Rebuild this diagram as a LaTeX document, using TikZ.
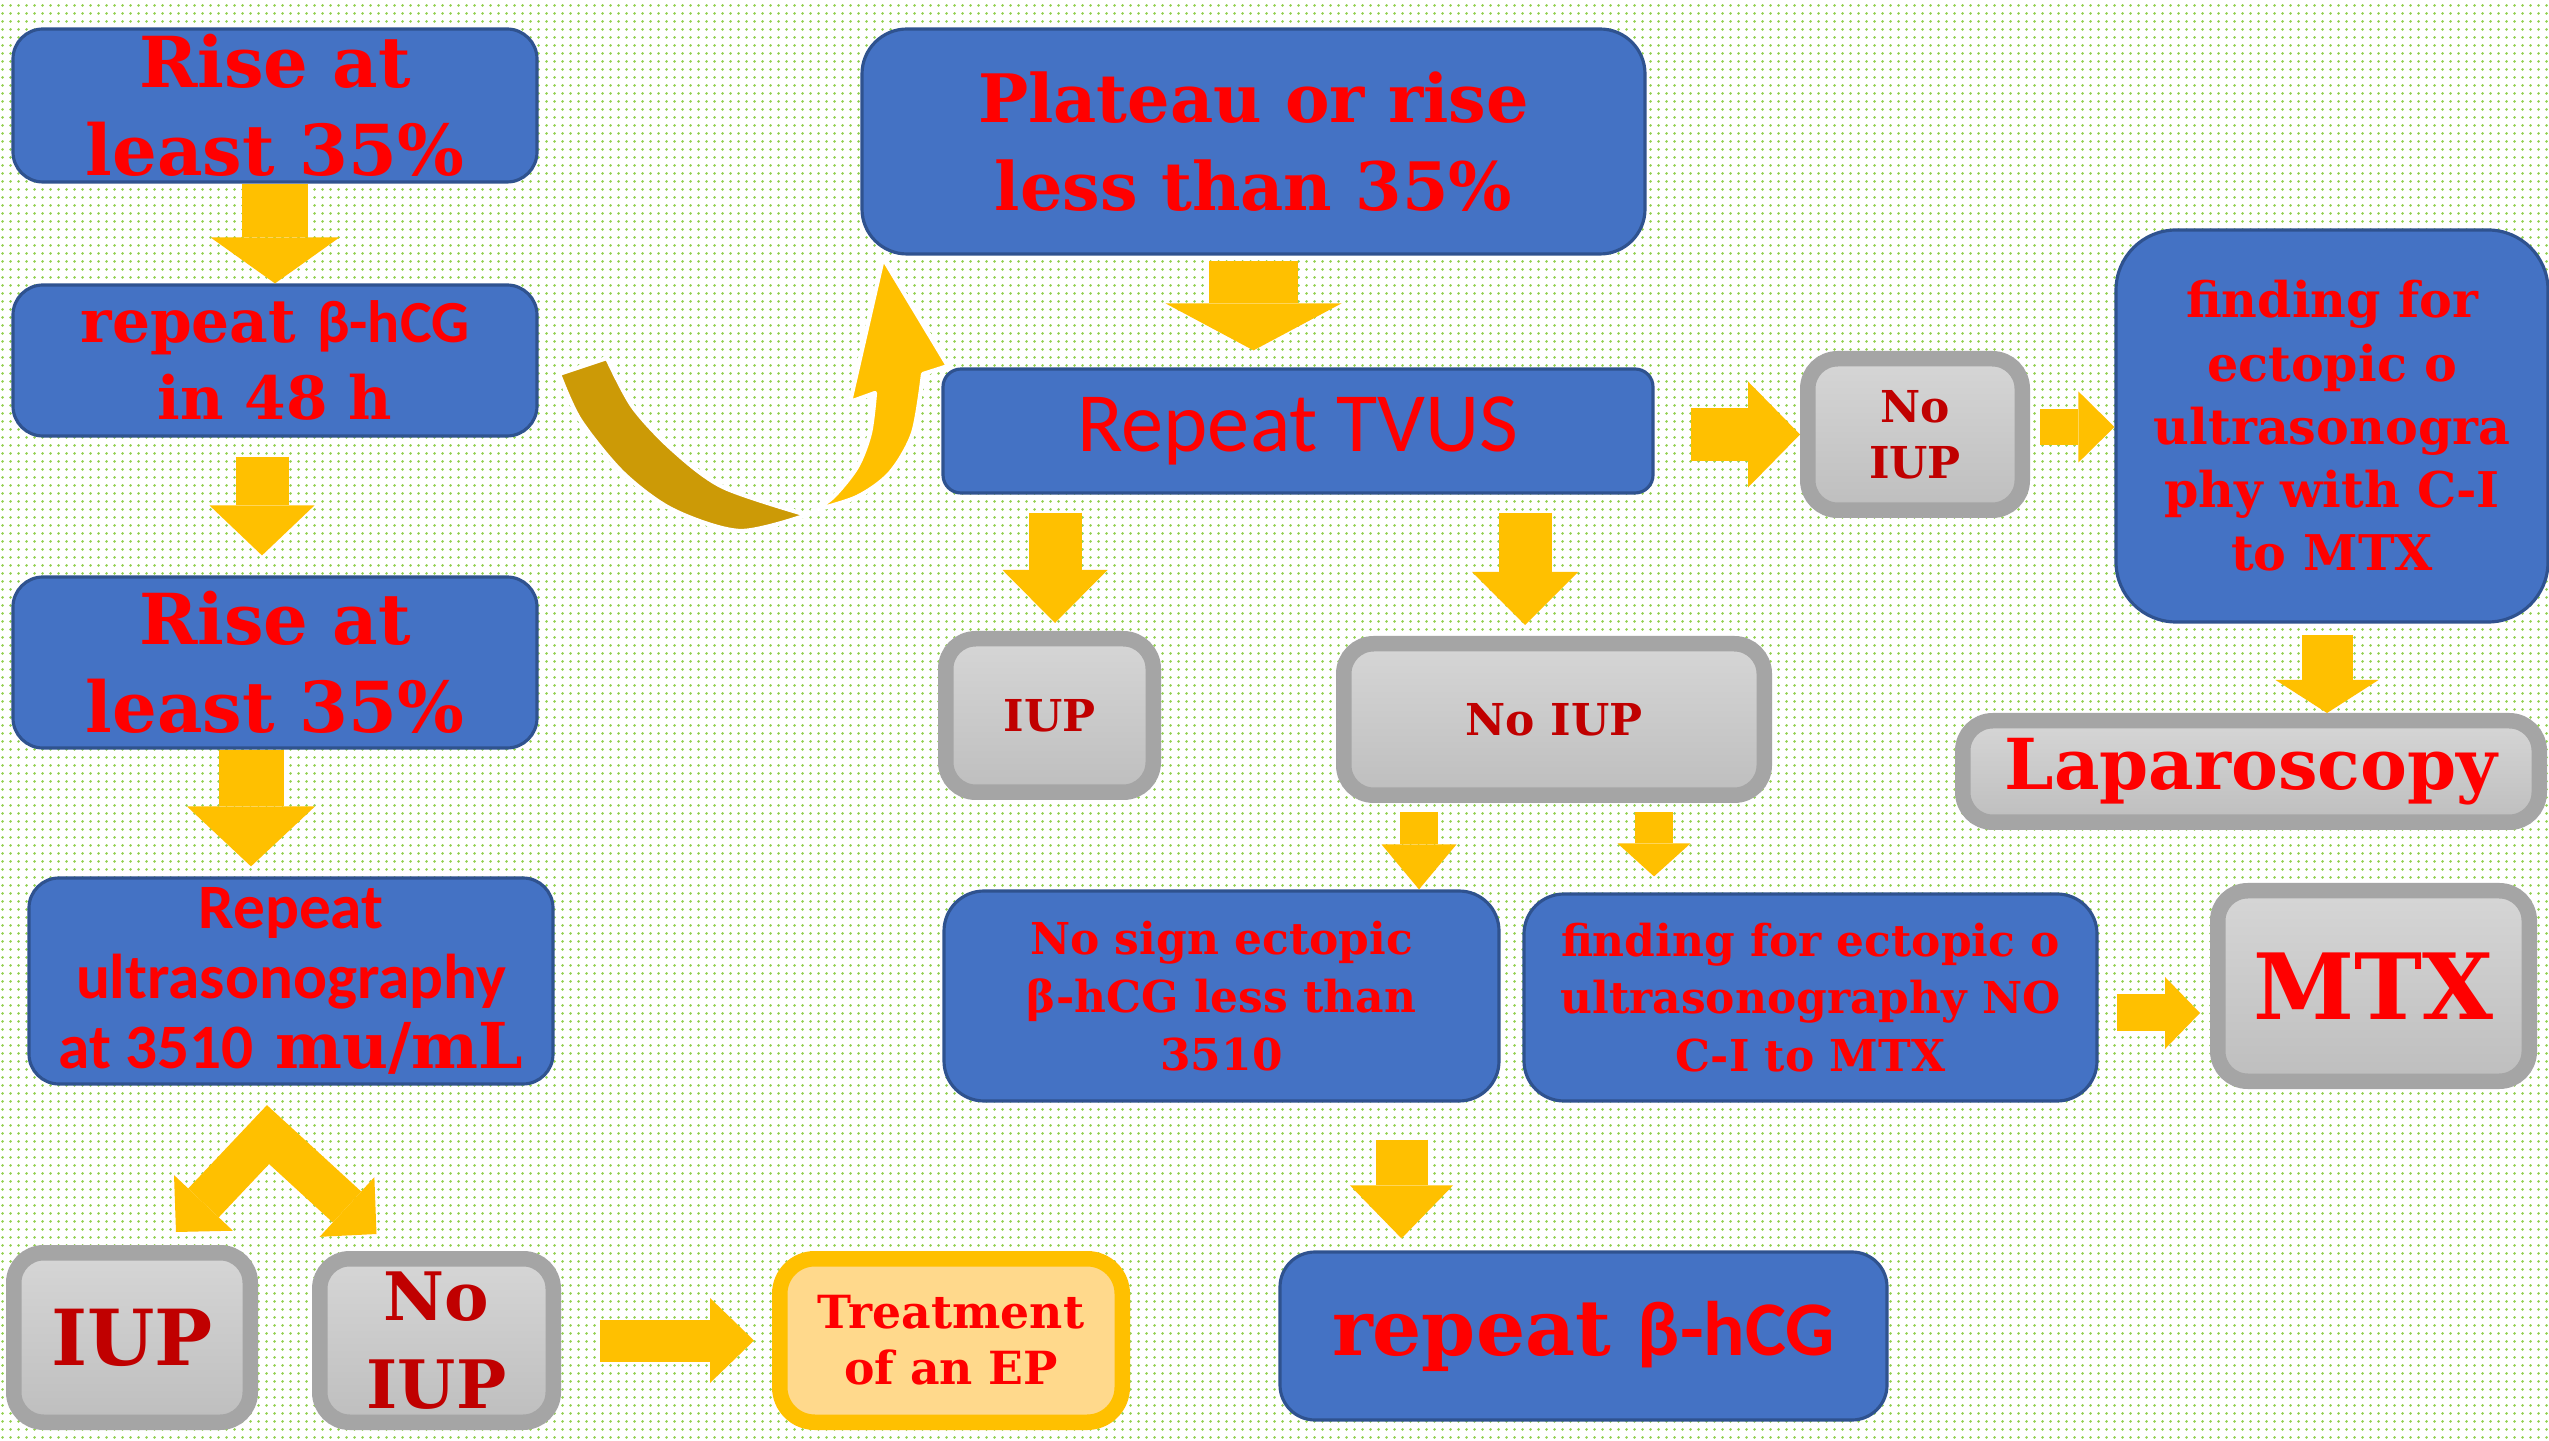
\documentclass[tikz,border=0pt]{standalone}
\usepackage{fontspec}
\setmainfont{DejaVu Serif}
\newfontfamily\sansfam{Carlito}
\usepackage{tikz}
\usetikzlibrary{arrows.meta, positioning, patterns.meta, calc}
\definecolor{boxblue}{RGB}{68,114,196}
\definecolor{boxedge}{RGB}{47,82,143}
\definecolor{greyedge}{RGB}{165,165,165}
\definecolor{greytop}{RGB}{214,214,214}
\definecolor{greybot}{RGB}{190,190,190}
\definecolor{gold}{RGB}{255,192,0}
\definecolor{darkgold}{RGB}{204,154,6}
\definecolor{peach}{RGB}{255,217,140}
\definecolor{txtred}{RGB}{255,0,0}
\definecolor{iupred}{RGB}{192,0,0}
\definecolor{dotgreen}{RGB}{146,208,80}

\tikzdeclarepattern{
  name=greendots, type=uncolored,
  bottom left={(0pt,0pt)}, top right={(2.28pt,2.28pt)},
  tile size={(2.28pt,2.28pt)},
  code={\fill (1.14pt,1.14pt) circle (0.45pt);}
}

\begin{document}
\begin{tikzpicture}[
  bluebox/.style={draw=boxedge, line width=0.9pt, fill=boxblue, rounded corners=0.3cm,
                  align=center, text=txtred, inner sep=1pt},
  greybox/.style={draw=greyedge, line width=0.155cm, top color=greytop, bottom color=greybot,
                  rounded corners=0.3cm, align=center, text=iupred, inner sep=1pt},
  orangebox/.style={draw=gold, line width=0.155cm, fill=peach, rounded corners=0.35cm,
                    align=center, text=txtred},
  barrow/.style n args={3}{draw=gold, line width=#1,
                           -{Triangle[width=#2, length=#3, line width=0pt]}},
  bendpart/.style={draw=white, line width=1.2pt, line join=round}
]
  \useasboundingbox (0,0) rectangle (25.49,14.40);
  \fill[white] (0,0) rectangle (25.49,14.40);
  \fill[pattern=greendots, pattern color=dotgreen] (0,0) rectangle (25.49,14.40);

  % left column
  \node[bluebox, minimum width=5.24cm, minimum height=1.53cm,
        font={\fontsize{20}{25}\selectfont\bfseries}] (riseA) at (2.75,13.345)
    {Rise at\\least 35\%};
  \node[bluebox, minimum width=5.24cm, minimum height=1.51cm,
        font={\fontsize{17}{22}\selectfont\bfseries}] (rep48) at (2.75,10.795)
    {repeat {\sansfam β-hCG}\\in 48 h};
  \node[bluebox, minimum width=5.24cm, minimum height=1.71cm,
        font={\fontsize{20}{25}\selectfont\bfseries}] (riseC) at (2.75,7.775)
    {Rise at\\least 35\%};
  \node[bluebox, minimum width=5.24cm, minimum height=2.06cm,
        font={\fontsize{18}{20}\selectfont\bfseries}] (ultra) at (2.91,4.59)
    {{\sansfam Repeat}\\{\sansfam ultrasonography}\\{\sansfam at 3510} mu/mL};
  \node[greybox, minimum width=2.365cm, minimum height=1.695cm,
        font={\fontsize{22}{26}\selectfont\bfseries}] (iupL) at (1.32,1.025) {IUP};
  \node[greybox, minimum width=2.335cm, minimum height=1.635cm,
        font={\fontsize{19}{25}\selectfont\bfseries}] (noiupL) at (4.365,0.995) {No\\IUP};
  \node[orangebox, minimum width=3.425cm, minimum height=1.635cm,
        font={\fontsize{13}{16}\selectfont\bfseries}] (treat) at (9.51,0.995)
    {Treatment\\of an EP};

  % middle and right
  \node[bluebox, rounded corners=0.45cm, minimum width=7.83cm, minimum height=2.25cm,
        font={\fontsize{19}{25}\selectfont\bfseries}] (plateau) at (12.535,12.985)
    {Plateau or rise\\less than 35\%};
  \node[bluebox, rounded corners=0.18cm, minimum width=7.10cm, minimum height=1.24cm,
        font={\sansfam\fontsize{24}{28}\selectfont}] (tvus) at (12.98,10.09) {Repeat TVUS};
  \node[greybox, minimum width=2.145cm, minimum height=1.515cm,
        font={\fontsize{12.5}{16}\selectfont\bfseries}] (noiupR) at (19.15,10.055) {No\\IUP};
  \node[bluebox, rounded corners=0.6cm, minimum width=4.32cm, minimum height=3.92cm,
        font={\fontsize{14}{18}\selectfont\bfseries}] (findA) at (23.32,10.14)
    {finding for\\ectopic o\\ultrasonogra\\phy with C-I\\to MTX};
  \node[greybox, minimum width=5.765cm, minimum height=1.015cm, text=txtred,
        font={\fontsize{20}{24}\selectfont\bfseries}] (lap) at (22.51,6.685) {Laparoscopy};
  \node[greybox, minimum width=2.075cm, minimum height=1.535cm,
        font={\fontsize{12.5}{16}\selectfont\bfseries}] (iupM) at (10.495,7.245) {IUP};
  \node[greybox, minimum width=4.205cm, minimum height=1.515cm,
        font={\fontsize{12.5}{16}\selectfont\bfseries}] (noiupM) at (15.54,7.205) {No IUP};
  \node[bluebox, rounded corners=0.4cm, minimum width=5.55cm, minimum height=2.10cm,
        font={\fontsize{12.5}{16.6}\selectfont\bfseries}] (nosign) at (12.215,4.44)
    {No sign ectopic\\β-hCG less than\\3510};
  \node[bluebox, rounded corners=0.4cm, minimum width=5.73cm, minimum height=2.07cm,
        font={\fontsize{12.5}{16.4}\selectfont\bfseries}] (findB) at (18.105,4.425)
    {finding for ectopic o\\ultrasonography NO\\C-I to MTX};
  \node[greybox, minimum width=3.115cm, minimum height=1.905cm, text=txtred,
        font={\fontsize{26}{30}\selectfont\bfseries}] (mtx) at (23.735,4.54) {MTX};
  \node[bluebox, rounded corners=0.35cm, minimum width=6.07cm, minimum height=1.68cm,
        font={\fontsize{22}{26}\selectfont\bfseries}] (rephcg) at (15.835,1.04)
    {repeat {\sansfam β-hCG}};

  % block arrows
  \draw[barrow={0.66cm}{1.29cm}{0.46cm}] (riseA.south) -- (rep48.north);
  \draw[barrow={0.53cm}{1.05cm}{0.50cm}, shorten <=0.19cm, shorten >=0.2cm]
    ([xshift=-0.13cm]rep48.south) -- ([xshift=-0.13cm]rep48.south |- riseC.north);
  \draw[barrow={0.65cm}{1.28cm}{0.60cm}, shorten >=0.1cm]
    ([xshift=-0.24cm]riseC.south) -- ([xshift=-0.24cm]riseC.south |- ultra.north);

  \coordinate (split) at ([xshift=-0.23cm, yshift=-0.49cm]ultra.south);
  \draw[draw=gold, line width=0.42cm, line join=miter,
        {Triangle[width=0.81cm, length=0.40cm, line width=0pt]}-{Triangle[width=0.81cm, length=0.40cm, line width=0pt]}]
    ([shift={(0.44cm,0.13cm)}]iupL.north) -- (split) -- ([shift={(-0.6cm,0.17cm)}]noiupL.north);
  \draw[barrow={0.42cm}{0.85cm}{0.44cm}, shorten <=0.39cm, shorten >=0.18cm]
    (noiupL.east) -- (noiupL.east -| treat.west);

  % curved arrow from rep48 up to the plateau box
  \fill[darkgold, bendpart]
    plot[smooth] coordinates {(5.59,10.66) (5.80,10.20) (6.23,9.67) (6.73,9.30) (7.40,9.09) (8.07,9.25)}
    -- plot[smooth] coordinates {(8.07,9.25) (7.23,9.53) (6.73,9.90) (6.33,10.33) (6.07,10.82)}
    -- cycle;
  \fill[gold, bendpart]
    plot[smooth] coordinates {(8.12,9.29) (8.57,9.43) (8.90,9.67) (9.13,10.07) (9.23,10.66)}
    -- (9.48,10.74) -- (8.83,11.82) -- (8.50,10.38)
    -- plot[smooth] coordinates {(8.75,10.47) (8.70,10.07) (8.57,9.73) (8.33,9.43) (8.12,9.29)}
    -- cycle;

  \draw[barrow={0.89cm}{1.76cm}{0.47cm}, shorten <=0.05cm, shorten >=0.17cm]
    (plateau.south) -- (plateau.south |- tvus.north);
  \draw[barrow={0.53cm}{1.06cm}{0.52cm}, shorten <=0.36cm]
    (tvus.east |- noiupR.west) -- (noiupR.west);
  \draw[barrow={0.36cm}{0.71cm}{0.36cm}, shorten <=0.1cm]
    ([yshift=0.075cm]noiupR.east) -- ([yshift=0.075cm]noiupR.east -| findA.west);
  \draw[barrow={0.51cm}{1.03cm}{0.33cm}, shorten <=0.11cm]
    ([xshift=-0.05cm]findA.south) -- ([xshift=-0.05cm]findA.south |- lap.north);
  \draw[barrow={0.53cm}{1.05cm}{0.53cm}, shorten <=0.18cm, shorten >=0.08cm]
    ([xshift=0.055cm]iupM.north |- tvus.south) -- ([xshift=0.055cm]iupM.north);
  \draw[barrow={0.53cm}{1.06cm}{0.53cm}, shorten <=0.18cm, shorten >=0.11cm]
    ([xshift=-0.29cm]noiupM.north |- tvus.south) -- ([xshift=-0.29cm]noiupM.north);
  \draw[barrow={0.38cm}{0.75cm}{0.45cm}, shorten <=0.09cm]
    ([xshift=-1.35cm]noiupM.south) -- ([xshift=-1.35cm]noiupM.south |- nosign.north);
  \draw[barrow={0.38cm}{0.73cm}{0.33cm}, shorten <=0.09cm, shorten >=0.16cm]
    ([xshift=1.0cm]noiupM.south) -- ([xshift=1.0cm]noiupM.south |- findB.north);
  \draw[barrow={0.52cm}{1.03cm}{0.53cm}, shorten <=0.37cm, shorten >=0.12cm]
    ([xshift=1.8cm]nosign.south) -- ([xshift=1.8cm]nosign.south |- rephcg.north);
  \draw[barrow={0.37cm}{0.72cm}{0.35cm}, shorten <=0.18cm, shorten >=0.10cm]
    ([yshift=-0.155cm]findB.east) -- ([yshift=-0.155cm]findB.east -| mtx.west);
\end{tikzpicture}
\end{document}
